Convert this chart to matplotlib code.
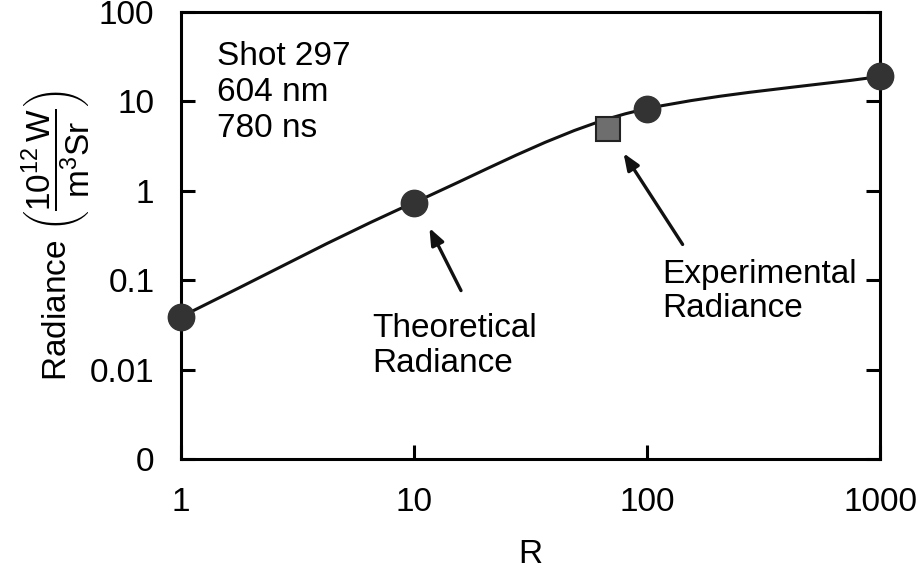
import numpy as np
import matplotlib
matplotlib.use("Agg")
import matplotlib.pyplot as plt
from matplotlib.path import Path
from matplotlib.patches import PathPatch

plt.rcParams["font.family"] = ["Liberation Sans", "DejaVu Sans"]
plt.rcParams["mathtext.fontset"] = "custom"
plt.rcParams["mathtext.rm"] = "Liberation Sans"
plt.rcParams["mathtext.it"] = "Liberation Sans"

# theoretical radiance vs R
R_theory = [1, 10, 100, 1000]
rad_theory = [0.039, 0.74, 8.3, 19.0]

# experimental radiance
R_exp = [68]
rad_exp = [4.9]

y_ticks = [1e-3, 1e-2, 1e-1, 1, 10, 100]
y_ticklabels = ["0", "0.01", "0.1", "1", "10", "100"]
x_ticks = [1, 10, 100, 1000]
x_ticklabels = ["1", "10", "100", "1000"]

FS = 24

fig = plt.figure(figsize=(9.18, 5.69), dpi=100)
ax = fig.add_axes([0.197, 0.193, 0.762, 0.786])
ax.set_xscale("log")
ax.set_yscale("log")
ax.set_xlim(1, 1000)
ax.set_ylim(1e-3, 100)

# smooth curve through the theory points (bezier in log space,
# harmonic-mean tangents so it doesn't overshoot)
lx = np.log10(R_theory)
ly = np.log10(rad_theory)
n = len(lx)
d = np.diff(ly) / np.diff(lx)
m = np.empty(n)
m[0], m[-1] = d[0], d[-1]
m[1:-1] = 2 / (1 / d[:-1] + 1 / d[1:])
verts = [(R_theory[0], rad_theory[0])]
codes = [Path.MOVETO]
for i in range(n - 1):
    h = (lx[i + 1] - lx[i]) / 3
    c1 = (lx[i] + h, ly[i] + h * m[i])
    c2 = (lx[i + 1] - h, ly[i + 1] - h * m[i + 1])
    verts += [(10 ** c1[0], 10 ** c1[1]), (10 ** c2[0], 10 ** c2[1]),
              (R_theory[i + 1], rad_theory[i + 1])]
    codes += [Path.CURVE4] * 3
ax.add_patch(PathPatch(Path(verts, codes), fill=False, lw=2.2, color="#111111",
                       clip_on=False, zorder=2))

ax.plot(R_theory, rad_theory, "o", ms=19, color="#333333", clip_on=False, zorder=3)
ax.plot(R_exp, rad_exp, "s", ms=17, mfc="#6e6e6e", mec="#222222", mew=1.5,
        clip_on=False, zorder=3)

ax.set_xticks(x_ticks)
ax.set_xticklabels(x_ticklabels)
ax.set_yticks(y_ticks)
ax.set_yticklabels(y_ticklabels)
ax.minorticks_off()
ax.tick_params(axis="both", direction="in", length=10, width=2.2, labelsize=FS)
ax.tick_params(axis="y", right=True, pad=19)
ax.tick_params(axis="x", pad=20)
for s in ax.spines.values():
    s.set_linewidth(2.2)

ax.set_xlabel("R", fontsize=FS, labelpad=15)
ax.set_ylabel(r"Radiance $\left(\dfrac{10^{12}\,\mathrm{W}}{\mathrm{m^3Sr}}\right)$",
              fontsize=FS, labelpad=-2)

ax.text(1.43, 47, "Shot 297\n604 nm\n780 ns", fontsize=FS, va="top", ha="left",
        linespacing=1.2)

arrow = dict(arrowstyle="-|>,head_length=1.0,head_width=0.4", lw=2.4, color="#111111")
ax.annotate("", xy=(11.5, 0.41), xytext=(16.1, 0.072), arrowprops=arrow)
ax.text(6.6, 0.043, "Theoretical\nRadiance", fontsize=FS, va="top", ha="left",
        linespacing=1.15)
ax.annotate("", xy=(78, 2.8), xytext=(144, 0.237), arrowprops=arrow)
ax.text(116, 0.174, "Experimental\nRadiance", fontsize=FS, va="top", ha="left",
        linespacing=1.15)

fig.savefig("out.png", dpi=100)
